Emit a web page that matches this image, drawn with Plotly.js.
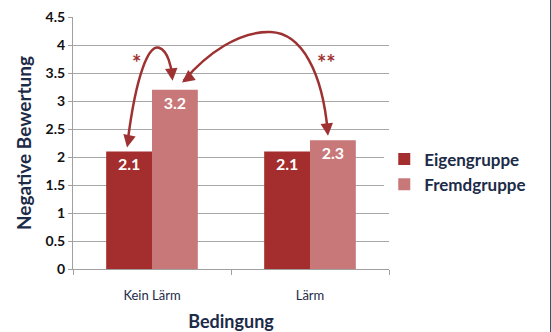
<!DOCTYPE html>
<html><head><meta charset="utf-8">
<script src="https://cdn.plot.ly/plotly-3.0.1.min.js"></script>
<style>
html,body{margin:0;padding:0;background:#fff;}
#wrap{width:550px;height:332px;border-right:1px solid #2a5a70;}
#chart{width:550px;height:332px;}
</style></head>
<body><div id="wrap"><div id="chart"></div></div>
<script>
const categories = ["Kein Lärm", "Lärm"];
const seriesNames = ["Eigengruppe", "Fremdgruppe"];
const eigengruppe = [2.1, 2.1];
const fremdgruppe = [3.2, 2.3];
const yTicks = [0, 0.5, 1, 1.5, 2, 2.5, 3, 3.5, 4, 4.5];
const yTickLabels = ["0", "0.5", "1", "1.5", "2", "2.5", "3", "3.5", "4", "4.5"];
const sigLabels = ["*", "**"];

const navy = "#1c2b48";
const arrowCol = "#9e3232";
const fontFam = "Lato, 'Open Sans', sans-serif";

const traces = [
  {type:"bar", name:seriesNames[0], x:categories, y:eigengruppe,
   marker:{color:"#a42d2d", line:{width:0}},
   text:eigengruppe.map(v=>v.toFixed(1)), textposition:"inside", insidetextanchor:"end",
   textfont:{color:"#ffffff", size:16, family:fontFam, weight:"bold"}, hoverinfo:"skip"},
  {type:"bar", name:seriesNames[1], x:categories, y:fremdgruppe,
   marker:{color:"#c87878", line:{width:0}},
   text:fremdgruppe.map(v=>v.toFixed(1)), textposition:"inside", insidetextanchor:"end",
   textfont:{color:"#ffffff", size:16, family:fontFam, weight:"bold"}, hoverinfo:"skip"}
];

const layout = {
  width:550, height:332,
  margin:{l:73, r:161, t:17, b:63},
  paper_bgcolor:"#ffffff", plot_bgcolor:"#ffffff",
  barmode:"group", bargap:0.42, bargroupgap:0,
  font:{family:fontFam, color:navy},
  showlegend:true,
  legend:{x:0.985, y:0.385, xanchor:"left", yanchor:"middle",
    font:{size:17, color:navy, family:fontFam, weight:"bold"}, tracegroupgap:0, itemwidth:30},
  xaxis:{type:"category", showgrid:false, showline:true, linecolor:"#a0a0a0", linewidth:1,
    ticks:"outside", tickson:"boundaries", ticklen:5, tickcolor:"#a0a0a0", ticklabelstandoff:14,
    tickfont:{size:13, color:navy, family:fontFam},
    title:{text:"Bedingung", font:{size:18, color:navy, family:fontFam, weight:"bold"}, standoff:13},
    range:[-0.5, 1.5]},
  yaxis:{range:[0,4.5], tickvals:yTicks, ticktext:yTickLabels, showgrid:true, gridcolor:"#a8a8a8", gridwidth:1,
    showline:true, linecolor:"#a0a0a0", linewidth:1, ticks:"outside", ticklen:4, tickcolor:"#a0a0a0",
    tickfont:{size:14, color:"#111", family:fontFam, weight:"bold"}, zeroline:false,
    title:{text:"Negative Bewertung", font:{size:19, color:navy, family:fontFam, weight:"bold"}, standoff:8}},
  shapes:[
    {type:"path", xref:"x", yref:"y",
     path:"M -0.155,2.25 C -0.10,3.5 -0.02,4.0 0.044,3.95 C 0.10,3.9 0.125,3.6 0.128,3.42",
     line:{color:arrowCol, width:2.5}},
    {type:"path", xref:"x", yref:"y",
     path:"M 0.20,3.36 C 0.35,3.85 0.55,4.25 0.75,4.23 C 0.95,4.21 1.08,3.5 1.112,2.45",
     line:{color:arrowCol, width:2.5}}
  ],
  annotations:[
    {x:-0.158, y:2.17, xref:"x", yref:"y", ax:2, ay:-10, text:"", showarrow:true, arrowhead:2, arrowsize:1, arrowwidth:2.5, arrowcolor:arrowCol},
    {x:0.130, y:3.36, xref:"x", yref:"y", ax:-1, ay:-10, text:"", showarrow:true, arrowhead:2, arrowsize:1, arrowwidth:2.5, arrowcolor:arrowCol},
    {x:0.190, y:3.33, xref:"x", yref:"y", ax:8, ay:-6, text:"", showarrow:true, arrowhead:2, arrowsize:1, arrowwidth:2.5, arrowcolor:arrowCol},
    {x:1.114, y:2.38, xref:"x", yref:"y", ax:-1, ay:-10, text:"", showarrow:true, arrowhead:2, arrowsize:1, arrowwidth:2.5, arrowcolor:arrowCol},
    {x:-0.095, y:3.68, xref:"x", yref:"y", text:sigLabels[0], showarrow:false, font:{size:22, color:arrowCol, family:fontFam, weight:"bold"}},
    {x:1.105, y:3.68, xref:"x", yref:"y", text:sigLabels[1], showarrow:false, font:{size:22, color:arrowCol, family:fontFam, weight:"bold"}}
  ]
};

Plotly.newPlot("chart", traces, layout, {displayModeBar:false, staticPlot:true});
</script></body></html>
